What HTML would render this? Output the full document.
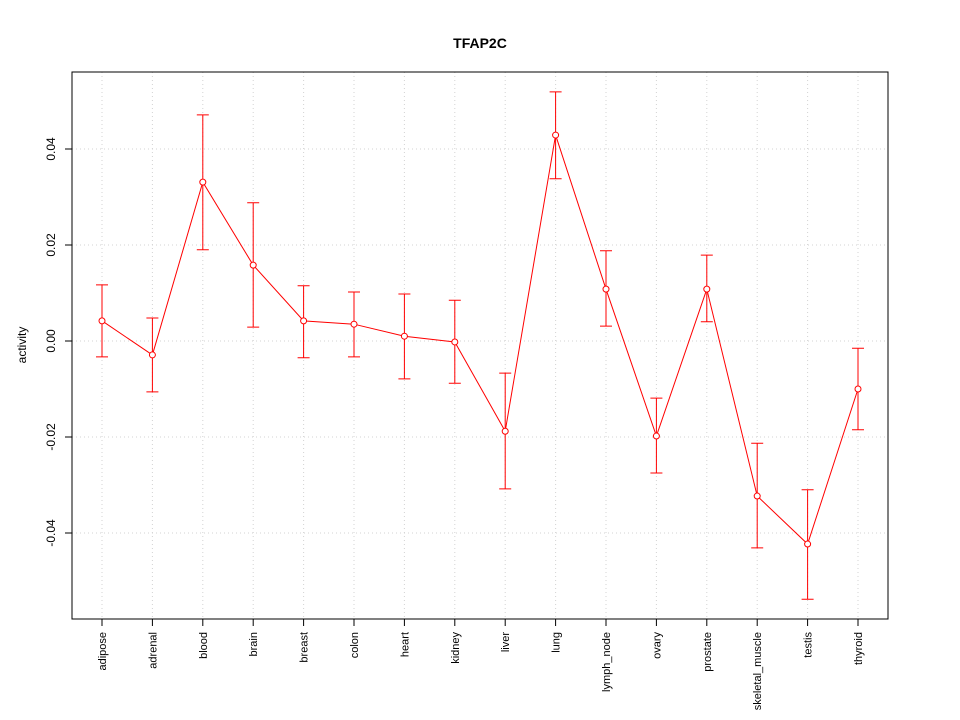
<!DOCTYPE html>
<html><head><meta charset="utf-8"><style>
body{margin:0;background:#fff}
svg{display:block;font-family:"Liberation Sans",Arial,sans-serif}
</style></head><body>
<svg id="chart" width="960" height="720">
<rect width="960" height="720" fill="#fff"/>
<text x="480" y="48" text-anchor="middle" font-weight="bold" font-size="14">TFAP2C</text>
<text transform="translate(26,345) rotate(-90)" text-anchor="middle" font-size="12">activity</text>
<g id="grid"></g><g id="axes"></g><g id="marks"></g>
<rect x="72" y="72" width="816" height="547" fill="none" stroke="#000"/>
</svg>
<script>
const categories=["adipose","adrenal","blood","brain","breast","colon","heart","kidney","liver","lung","lymph_node","ovary","prostate","skeletal_muscle","testis","thyroid"];
const values=[0.0042,-0.0029,0.0331,0.0158,0.0042,0.0035,0.0010,-0.0002,-0.0188,0.0429,0.0108,-0.0198,0.0108,-0.0323,-0.0423,-0.0100];
const upper=[0.0117,0.0048,0.0471,0.0288,0.0115,0.0102,0.0098,0.0085,-0.0067,0.0519,0.0188,-0.0119,0.0179,-0.0213,-0.0310,-0.0015];
const lower=[-0.0033,-0.0106,0.0190,0.0029,-0.0035,-0.0033,-0.0079,-0.0088,-0.0308,0.0338,0.0031,-0.0275,0.0040,-0.0431,-0.0538,-0.0185];
const yTicks=[-0.04,-0.02,0.00,0.02,0.04];
const yTickLabels=["-0.04","-0.02","0.00","0.02","0.04"];
const NS="http://www.w3.org/2000/svg";
function X(i){return 102+i*(858-102)/(categories.length-1);}
function Y(v){return 341-v*4800;}
function mk(p,tag,attrs){const e=document.createElementNS(NS,tag);for(const k in attrs)e.setAttribute(k,attrs[k]);p.appendChild(e);return e;}
const grid=document.getElementById('grid'),axes=document.getElementById('axes'),marks=document.getElementById('marks');
categories.forEach((c,i)=>{
 const g=mk(grid,'line',{x1:X(i),x2:X(i),y1:72,y2:619,stroke:'#d3d3d3','stroke-dasharray':'1,3'});
 
 
 const t=mk(axes,'line',{x1:X(i),x2:X(i),y1:619,y2:626,stroke:'#000'});
 
 
 const l=mk(axes,'text',{transform:`translate(${X(i)+4},632) rotate(-90)`,'text-anchor':'end','font-size':'11'});
 l.textContent=c;
 
 
});
yTicks.forEach((v,i)=>{
 const g=mk(grid,'line',{x1:72,x2:888,y1:Y(v),y2:Y(v),stroke:'#d3d3d3','stroke-dasharray':'1,3'});
 
 
 const t=mk(axes,'line',{x1:65,x2:72,y1:Y(v),y2:Y(v),stroke:'#000'});
 
 
 const l=mk(axes,'text',{transform:`translate(55,${Y(v)}) rotate(-90)`,'text-anchor':'middle','font-size':'12'});
 l.textContent=yTickLabels[i];
 
 
});
const line=mk(marks,'polyline',{points:values.map((v,i)=>X(i)+','+Y(v)).join(' '),fill:'none',stroke:'#ff0000'});


values.forEach((v,i)=>{
 const x=X(i);
 const e=mk(marks,'path',{d:`M${x},${Y(upper[i])}V${Y(lower[i])}M${x-6},${Y(upper[i])}H${x+6}M${x-6},${Y(lower[i])}H${x+6}`,stroke:'#ff0000',fill:'none'});
 
 
 const p=mk(marks,'circle',{cx:x,cy:Y(v),r:3,fill:'#fff',stroke:'#ff0000'});
 
 
});
</script>
</body></html>
